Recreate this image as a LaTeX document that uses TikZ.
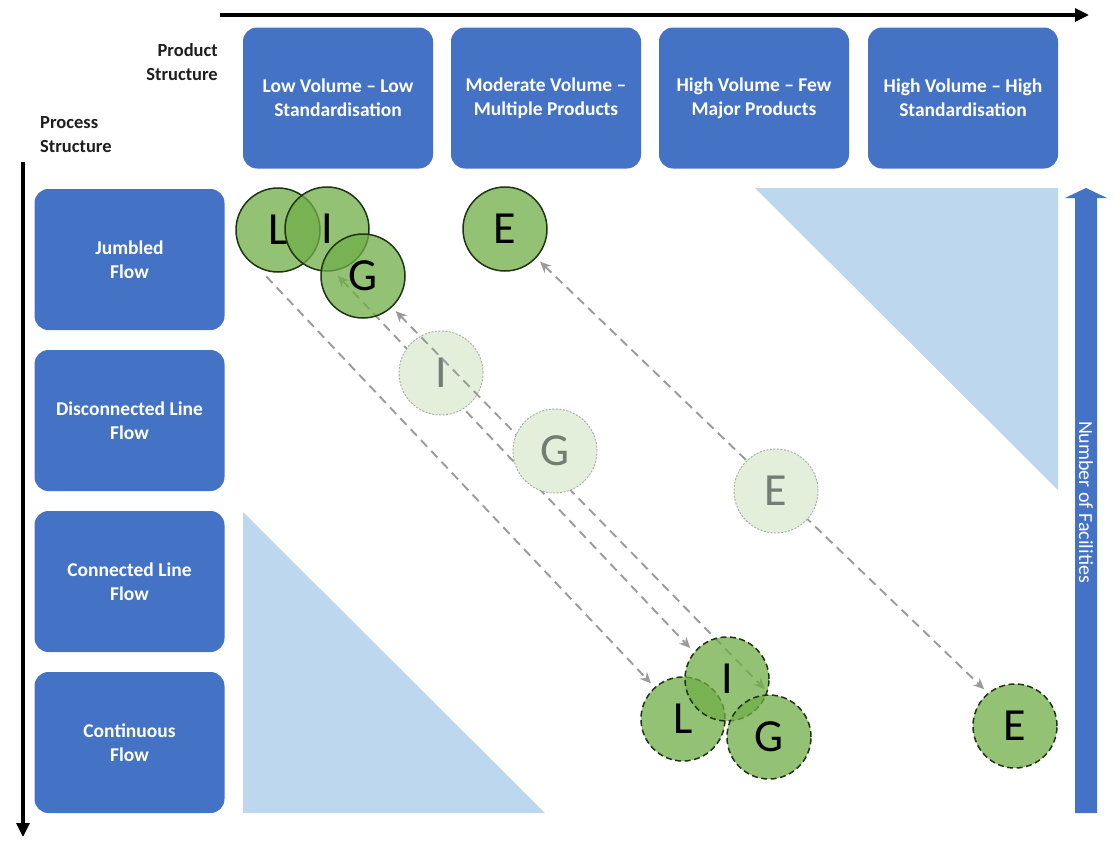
\documentclass[tikz,border=0pt]{standalone}
\usepackage{fontspec}
\setmainfont{Carlito}
\usetikzlibrary{arrows.meta}
\pgfdeclarelayer{front}
\pgfsetlayers{main,front}

\definecolor{boxblue}{RGB}{68,114,196}
\definecolor{paleblue}{RGB}{189,215,238}
\definecolor{leafgreen}{RGB}{112,173,71}
\definecolor{leafedge}{RGB}{30,52,20}
\definecolor{ghostfill}{RGB}{227,239,219}
\definecolor{ghostedge}{RGB}{165,170,165}
\definecolor{ghosttext}{RGB}{115,125,115}
\definecolor{pathgrey}{RGB}{155,155,155}
\definecolor{labelink}{RGB}{30,30,30}

\tikzset{
  catbox/.style={fill=boxblue, rounded corners=14pt, minimum width=190pt,
    minimum height=141pt, text=white, align=center, inner sep=0pt,
    font=\bfseries\fontsize{19.5}{24}\selectfont},
  axislabel/.style={text=labelink, inner sep=0pt,
    font=\bfseries\fontsize{18.5}{24}\selectfont},
  plant/.style={circle, minimum size=84pt, inner sep=0pt, outer sep=6pt,
    fill=leafgreen, fill opacity=0.75, text opacity=1, text=black,
    draw=leafedge, line width=1.5pt, font=\fontsize{46}{46}\selectfont},
  plantnow/.style={plant},
  plantlater/.style={plant, dash pattern=on 6pt off 3.5pt},
  ghost/.style={circle, minimum size=84pt, inner sep=0pt, outer sep=6pt,
    fill=ghostfill, draw=ghostedge, line width=0.9pt,
    dash pattern=on 2pt off 1.5pt, text=ghosttext,
    font=\fontsize{46}{46}\selectfont},
  route/.style={draw=pathgrey, line width=1.9pt, dash pattern=on 9pt off 6pt,
    >={Stealth[length=11pt,width=10pt]}},
  axis/.style={line width=3.2pt, -{Triangle[length=14pt,width=13pt]}},
}

\begin{document}
\begin{tikzpicture}[x=1pt,y=-1pt]
\useasboundingbox (0,0) rectangle (1114,841);

% axes
\coordinate (xfrom) at (220,15);
\coordinate (xto) at (1089,15);
\coordinate (yfrom) at (23,162);
\coordinate (yto) at (23,837);
\draw[axis] (xfrom) -- (xto);
\draw[axis] (yfrom) -- (yto);

\node[axislabel, anchor=east, align=right] (prodlbl) at (218,62) {Product\\Structure};
\node[axislabel, anchor=west, align=left] (proclbl) at (40,135) {Process\\Structure};

% product structure columns
\node[catbox] (c1) at (338,98) {Low Volume -- Low\\Standardisation};
\node[catbox] (c2) at (546,98) {Moderate Volume --\\Multiple Products};
\node[catbox] (c3) at (754,98) {High Volume -- Few\\Major Products};
\node[catbox] (c4) at (963,98) {High Volume -- High\\Standardisation};

% process structure rows
\node[catbox] (r1) at (129.5,259.5) {Jumbled\\Flow};
\node[catbox] (r2) at (129.5,420.5) {Disconnected Line\\Flow};
\node[catbox] (r3) at (129.5,581.5) {Connected Line\\Flow};
\node[catbox] (r4) at (129.5,742.5) {Continuous\\Flow};

% off-diagonal zones
\fill[paleblue] (755,188) -- (1058,188) -- (1058,490) -- cycle;
\fill[paleblue] (243,512) -- (243,813) -- (545,813) -- cycle;

% number of facilities arrow
\fill[boxblue] (1075,813) -- (1075,198) -- (1065,198) -- (1086,188)
  -- (1107,198) -- (1097,198) -- (1097,813) -- cycle;
\node[rotate=-90, text=white, font=\fontsize{20}{20}\selectfont] (facilities)
  at (1086,502) {Number of Facilities};

% facilities: start and end positions
\begin{pgfonlayer}{front}
\node[plantnow] (Ltop) at (278,230) {L};
\node[plantnow] (Itop) at (327,229) {I};
\node[plantnow] (Gtop) at (363,276) {G};
\node[plantnow] (Etop) at (505,229) {E};
\node[plantlater] (Lbot) at (683,719) {L};
\node[plantlater] (Ibot) at (727,679) {I};
\node[plantlater] (Gbot) at (769,737) {G};
\node[plantlater] (Ebot) at (1015,726) {E};
\end{pgfonlayer}

% moves, with intermediate positions
\draw[route,->] (Ltop.-104) -- (Lbot.132);
\draw[route,<->] (Itop.-77) -- (Ibot.140);
\node[ghost] (Imid) at (441,373) {I};
\draw[route,<->] (Gtop.-47) -- (Gbot.95);
\node[ghost] (Gmid) at (555,451) {G};
\draw[route,<->] (Etop.-43) -- (Ebot.130);
\node[ghost] (Emid) at (776,491) {E};
\end{tikzpicture}
\end{document}
